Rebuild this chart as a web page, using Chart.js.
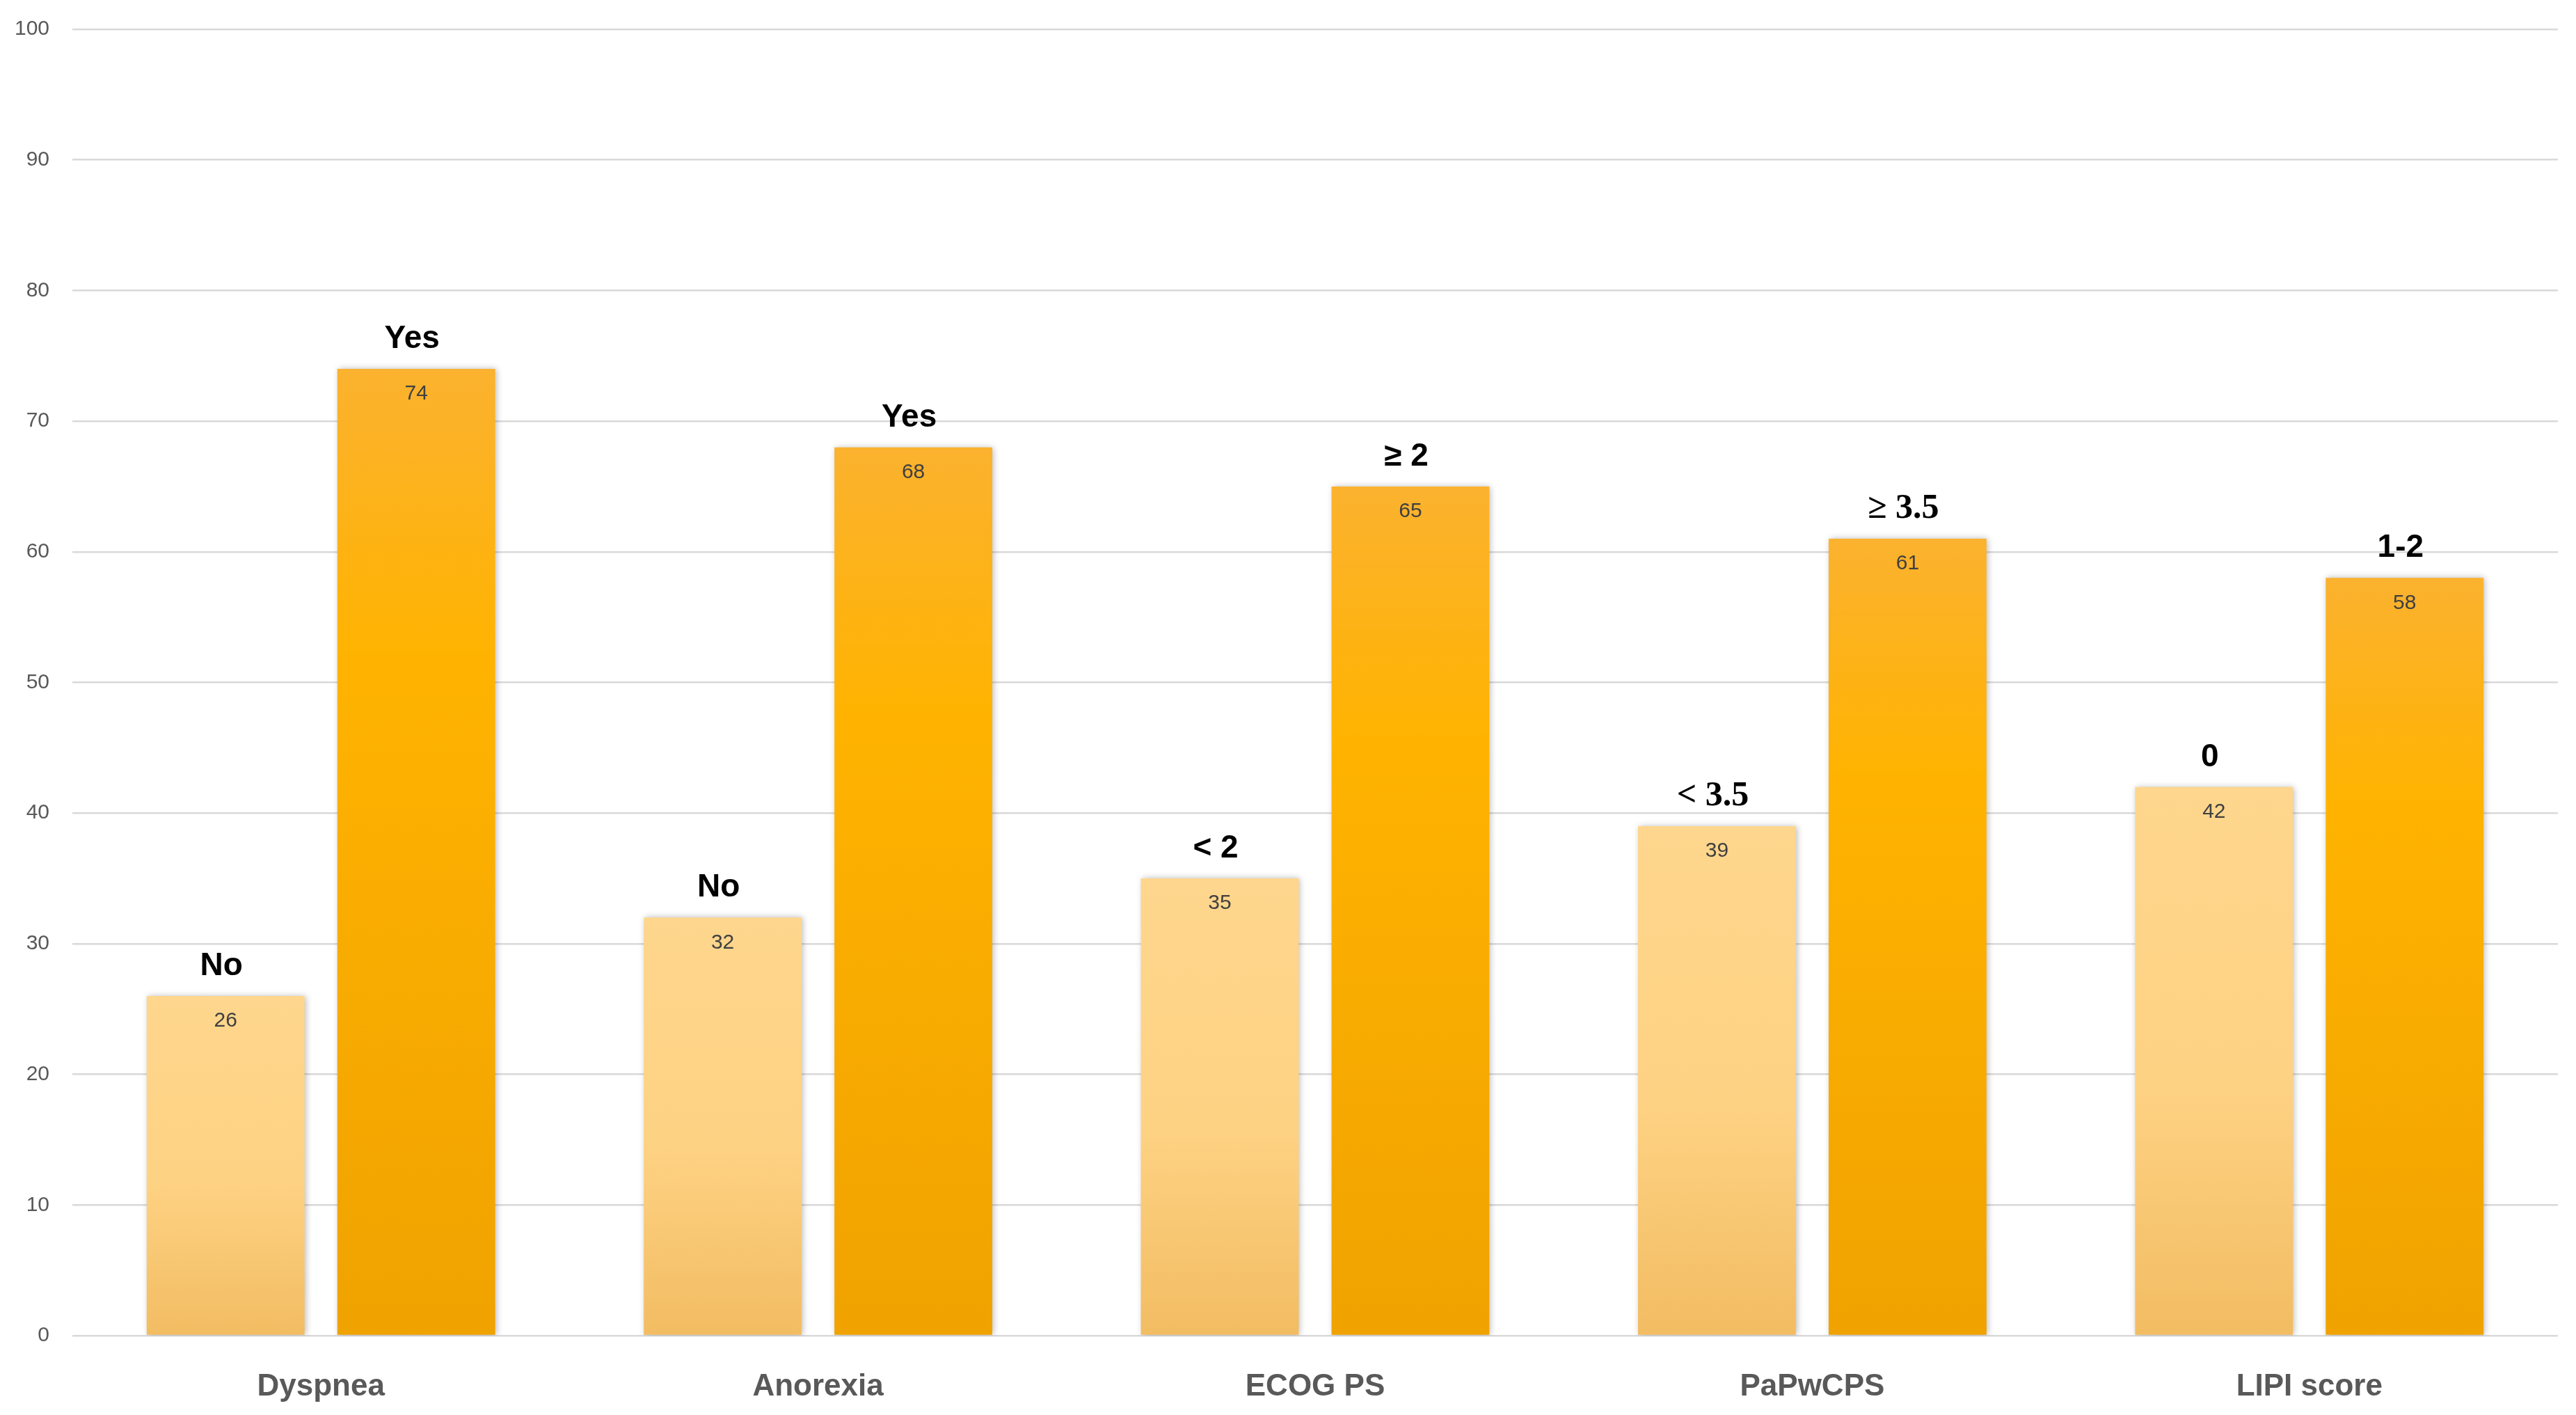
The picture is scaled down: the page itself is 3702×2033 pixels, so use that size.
<!DOCTYPE html>
<html>
<head>
<meta charset="utf-8">
<script src="https://cdn.jsdelivr.net/npm/chart.js@4.4.1/dist/chart.umd.min.js"></script>
<style>
  html, body { margin: 0; padding: 0; background: #fff; }
  canvas { display: block; }
</style>
</head>
<body>
<canvas id="chart" width="3702" height="2033" style="width:3702px;height:2033px"></canvas>
<script>
const categories = ['Dyspnea', 'Anorexia', 'ECOG PS', 'PaPwCPS', 'LIPI score'];
const lowValues = [26, 32, 35, 39, 42];
const highValues = [74, 68, 65, 61, 58];
const lowLabels = ['No', 'No', '< 2', '< 3.5', '0'];
const highLabels = ['Yes', 'Yes', '\u2265 2', '\u2265 3.5', '1-2'];
const yTicks = [0, 10, 20, 30, 40, 50, 60, 70, 80, 90, 100];

// per-bar vertical gradient, built once the y scale exists
function barGradient(stops) {
  return c => {
    const chart = c.chart;
    const y = chart.scales.y;
    if (!chart.chartArea || !y || c.raw == null) return stops[0][1];
    const top = y.getPixelForValue(c.raw);
    const bottom = y.getPixelForValue(0);
    const g = chart.ctx.createLinearGradient(0, top, 0, bottom);
    stops.forEach(([p, col]) => g.addColorStop(p, col));
    return g;
  };
}

const lightStops = [[0, '#fed68d'], [0.55, '#fed283'], [1, '#f2bc62']];
const darkStops = [[0, '#fbb22f'], [0.3, '#ffb300'], [1, '#f0a200']];

const barShadow = {
  id: 'barShadow',
  beforeDatasetDraw(chart) {
    const ctx = chart.ctx;
    ctx.save();
    ctx.shadowColor = 'rgba(0,0,0,0.28)';
    ctx.shadowBlur = 9;
    ctx.shadowOffsetX = 2;
    ctx.shadowOffsetY = 0;
  },
  afterDatasetDraw(chart) { chart.ctx.restore(); },
};

const barLabels = {
  id: 'barLabels',
  afterDatasetsDraw(chart) {
    const ctx = chart.ctx;
    const tops = [lowLabels, highLabels];
    chart.data.datasets.forEach((ds, di) => {
      const meta = chart.getDatasetMeta(di);
      meta.data.forEach((bar, i) => {
        ctx.save();
        ctx.textAlign = 'center';
        // value inside the bar
        ctx.fillStyle = '#404040';
        ctx.font = '30px "Liberation Sans", Arial, sans-serif';
        ctx.textBaseline = 'middle';
        ctx.fillText(String(ds.data[i]), bar.x, bar.y + 36);
        // group label above the bar
        const txt = tops[di][i];
        ctx.fillStyle = '#000';
        ctx.textBaseline = 'alphabetic';
        ctx.font = /3\.5/.test(txt)
          ? 'bold 50px "Liberation Serif", "Times New Roman", serif'
          : 'bold 46px "Liberation Sans", Arial, sans-serif';
        ctx.fillText(txt, bar.x - 6, bar.y - 30);
        ctx.restore();
      });
    });
  },
};

new Chart(document.getElementById('chart'), {
  type: 'bar',
  data: {
    labels: categories,
    datasets: [
      { label: 'low', data: lowValues, backgroundColor: barGradient(lightStops), borderWidth: 0 },
      { label: 'high', data: highValues, backgroundColor: barGradient(darkStops), borderWidth: 0 },
    ],
  },
  options: {
    responsive: false,
    animation: false,
    devicePixelRatio: 1,
    categoryPercentage: 0.767,
    barPercentage: 0.828,
    layout: { padding: { top: 42, right: 26, left: 0, bottom: 0 } },
    plugins: {
      legend: { display: false },
      tooltip: { enabled: false },
    },
    scales: {
      x: {
        grid: { display: false },
        border: { display: false },
        ticks: {
          color: '#595959',
          font: { family: '"Liberation Sans", Arial, sans-serif', size: 44, weight: 'bold' },
          padding: 39,
        },
        afterFit: s => { s.height = 114; s.paddingLeft = 0; s.paddingRight = 0; },
      },
      y: {
        min: 0, max: 100,
        afterBuildTicks: s => { s.ticks = yTicks.map(v => ({ value: v })); },
        grid: { color: '#d9d9d9', lineWidth: 2.5, drawTicks: false },
        border: { display: false },
        ticks: {
          color: '#595959',
          font: { family: '"Liberation Sans", Arial, sans-serif', size: 30 },
          padding: 33,
        },
        afterFit: s => { s.width = 104; s.paddingTop = 0; s.paddingBottom = 0; },
      },
    },
  },
  plugins: [barShadow, barLabels],
});
</script>
</body>
</html>
